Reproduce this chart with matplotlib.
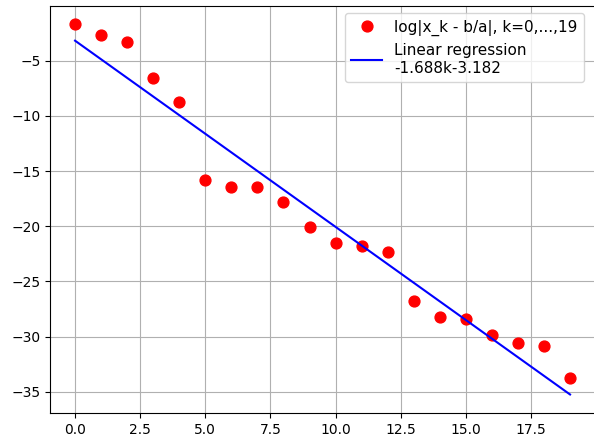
import matplotlib
matplotlib.use("Agg")
import matplotlib.pyplot as plt
import numpy as np

k = list(range(20))
log_err = [-1.69, -2.69, -3.32, -6.6, -8.77, -15.79, -16.47, -16.47, -17.83, -20.09,
           -21.5, -21.8, -22.36, -26.78, -28.2, -28.4, -29.9, -30.6, -30.9, -33.8]
slope = -1.688
intercept = -3.182

fig = plt.figure(figsize=(5.94, 4.37), dpi=100)
ax = fig.add_axes([50.3 / 594, 24 / 437, 544.5 / 594, 407.3 / 437])
kk = np.array(k)
ax.plot(kk, log_err, 'ro', markersize=7.8, label='log|x_k - b/a|, k=0,...,19')
ax.plot(kk, slope * kk + intercept, 'b-', label='Linear regression\n%.3fk%.3f' % (slope, intercept))
ax.grid(True)
ax.spines['right'].set_visible(False)
ax.legend(loc='upper right', fontsize=11, bbox_to_anchor=(0.9935, 1.0))
fig.savefig('out.png', dpi=100)
